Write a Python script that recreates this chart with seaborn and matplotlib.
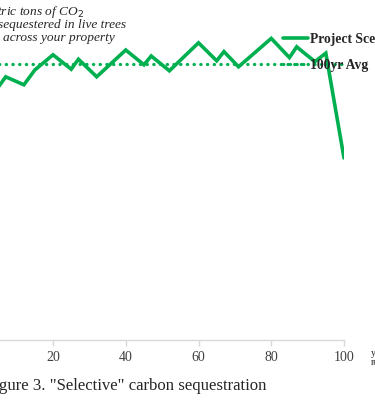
import numpy as np
import pandas as pd
import matplotlib
matplotlib.use("Agg")
import matplotlib.pyplot as plt
import seaborn as sns

# values (metric tons of CO2, by year)
years = [0, 4, 7, 12, 15, 20, 25, 27, 32, 40, 45, 47, 52, 60, 65, 67, 71, 80, 85, 87, 89, 92, 95, 100]
scenario = [60.0, 62.0, 65.8, 63.8, 67.5, 71.3, 67.7, 70.2, 65.8, 72.5, 68.8, 71.0, 67.3,
            74.3, 69.8, 72.1, 68.3, 75.4, 70.6, 73.3, 71.8, 69.6, 71.7, 45.5]
avg_years = [0, 100]
avg_value = [69.1, 69.1]
xticks = [0, 20, 40, 60, 80, 100]

green = "#00B050"

sns.set_theme(style="white")
plt.rcParams["font.family"] = ["Liberation Serif", "DejaVu Serif"]

fig = plt.figure(figsize=(3.75, 4), dpi=100)
# axes reach past the left edge of the picture (the reference is a crop)
ax = fig.add_axes([-19.75 / 375, 0.15, (344 + 19.75) / 375, 0.8])

df = pd.DataFrame({"year": years, "value": scenario})
df_avg = pd.DataFrame({"year": avg_years, "value": avg_value})

sns.lineplot(data=df, x="year", y="value", ax=ax, color=green, linewidth=2.6,
             label="Project Scenario", solid_joinstyle="miter")
sns.lineplot(data=df_avg, x="year", y="value", ax=ax, color=green, linewidth=2.3,
             linestyle=(0, (0.1, 2.0)), dash_capstyle="round", label="100yr Avg")

ax.set_xlim(0, 100)
ax.set_ylim(0, 80)
ax.set_xticks(xticks)
ax.set_xticklabels([str(t) for t in xticks])
ax.set_yticks([])
ax.set_xlabel("")
ax.set_ylabel("")
for s in ["top", "right", "left"]:
    ax.spines[s].set_visible(False)
ax.spines["bottom"].set_color("#D9D9D9")
ax.spines["bottom"].set_linewidth(1.0)
ax.tick_params(axis="x", colors="#D9D9D9", labelcolor="#404040", labelsize=10,
               direction="out", length=4, width=1, bottom=True, pad=4)

leg = ax.legend(loc="upper left", bbox_to_anchor=(283 / 375, 1 - 33 / 400),
                bbox_transform=fig.transFigure, frameon=False, borderpad=0,
                borderaxespad=0, handlelength=1.8, handletextpad=0.15,
                labelspacing=0.95, prop={"weight": "bold", "size": 9.8})

# y axis title written across the top
fig.text(-20 / 375, 1 - 12 / 400, "Metric tons of CO$_2$", style="italic",
         fontsize=9.6, va="center", ha="left", color="#262626")
fig.text(-2 / 375, 1 - 25 / 400, "sequestered in live trees", style="italic",
         fontsize=9.6, va="center", ha="left", color="#262626")
fig.text(3 / 375, 1 - 38 / 400, "across your property", style="italic",
         fontsize=9.6, va="center", ha="left", color="#262626")

fig.text(371 / 375, 1 - 358 / 400, "years\nremaining", fontsize=7, va="center",
         ha="left", color="#262626", linespacing=0.9)

fig.text(-15 / 375, 1 - 386 / 400, 'Figure 3. "Selective" carbon sequestration',
         fontsize=12.1, va="center", ha="left", color="#262626")

fig.savefig("out.png", dpi=100)
